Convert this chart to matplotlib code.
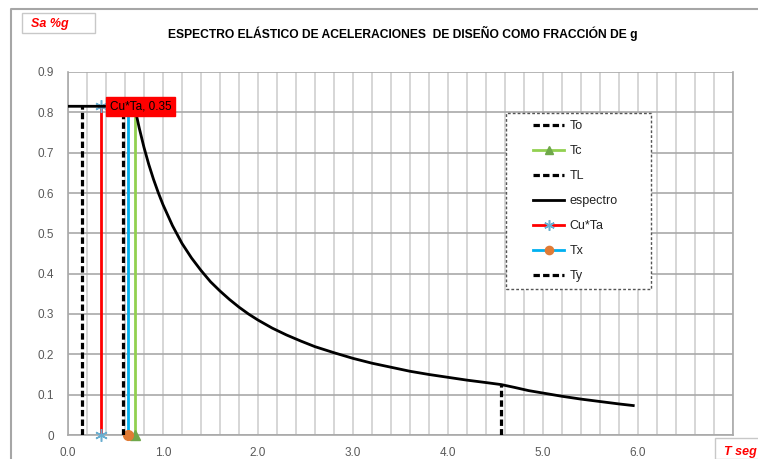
import matplotlib
matplotlib.use("Agg")
import matplotlib.pyplot as plt
from matplotlib.patches import Rectangle
from matplotlib.lines import Line2D

# ---- data ----
T_esp = [0.0, 0.70, 0.75, 0.80, 0.85, 0.90, 0.95, 1.00, 1.10, 1.20, 1.30, 1.40, 1.50, 1.60,
         1.70, 1.80, 1.90, 2.00, 2.15, 2.30, 2.45, 2.60, 2.80, 3.00, 3.20, 3.40, 3.60, 3.80,
         4.00, 4.20, 4.40, 4.56, 4.70, 4.85, 5.00, 5.20, 5.40, 5.60, 5.80, 5.95]
Sa_esp = [0.815, 0.815, 0.761, 0.713, 0.671, 0.634, 0.601, 0.571, 0.519, 0.475, 0.439, 0.408,
          0.380, 0.357, 0.336, 0.317, 0.300, 0.285, 0.265, 0.248, 0.233, 0.219, 0.204, 0.190,
          0.178, 0.168, 0.158, 0.150, 0.143, 0.136, 0.130, 0.125, 0.118, 0.110, 0.104, 0.096,
          0.089, 0.083, 0.077, 0.073]
T_o = [0.15, 0.15];  Sa_o = [0.0, 0.815]
T_c = [0.70, 0.70];  Sa_c = [0.0, 0.815]
T_L = [4.56, 4.56];  Sa_L = [0.0, 0.125]
T_cuta = [0.35, 0.35]; Sa_cuta = [0.0, 0.815]
T_x = [0.63, 0.63];  Sa_x = [0.0, 0.815]
T_y = [0.58, 0.58];  Sa_y = [0.0, 0.815]
cuta_label = "Cu*Ta, 0.35"
xticks = [0, 1, 2, 3, 4, 5, 6, 7]
xlabels = ["0.0", "1.0", "2.0", "3.0", "4.0", "5.0", "6.0", ""]
yticks = [0, 0.1, 0.2, 0.3, 0.4, 0.5, 0.6, 0.7, 0.8, 0.9]
ylabels = ["0", "0.1", "0.2", "0.3", "0.4", "0.5", "0.6", "0.7", "0.8", "0.9"]
title = "ESPECTRO ELÁSTICO DE ACELERACIONES  DE DISEÑO COMO FRACCIÓN DE g"

plt.rcParams['font.family'] = ['Liberation Sans', 'DejaVu Sans']

W, H = 758, 459
fig = plt.figure(figsize=(W/100, H/100), dpi=100)
ax = fig.add_axes([68/W, 1-435/H, (733-68)/W, (435-72)/H])

ax.set_xlim(0, 7)
ax.set_ylim(0, 0.9)

# grid
for i in range(36):
    ax.axvline(i*0.2, color='#cfcfcf', lw=1.2, zorder=0)
for v in yticks:
    ax.axhline(v, color='#a9a9a9', lw=1.2, zorder=0)

dash = (0, (2.0, 1.0))
ax.plot(T_o, Sa_o, color='black', lw=2.3, ls=dash, label='To', zorder=3)
ax.plot(T_c, Sa_c, color='#92d050', lw=2.0, marker='^', ms=7, mfc='#6fa84a', mec='#6fa84a',
        label='Tc', zorder=3, clip_on=False)
ax.plot(T_L, Sa_L, color='black', lw=2.3, ls=dash, label='TL', zorder=3)
ax.plot(T_esp, Sa_esp, color='black', lw=2.0, label='espectro', zorder=4,
        solid_joinstyle='round')
ax.plot(T_cuta, Sa_cuta, color='#ff0000', lw=2.0, marker=(6, 2, 0), ms=9, mec='#6aaed0',
        mew=1.1, label='Cu*Ta', zorder=3, clip_on=False)
ax.plot(T_x, Sa_x, color='#00b0f0', lw=2.0, marker='o', ms=7, mfc='#e07b35', mec='#e07b35',
        label='Tx', zorder=3, clip_on=False)
ax.plot(T_y, Sa_y, color='black', lw=2.3, ls=dash, label='Ty', zorder=3)

ax.annotate(cuta_label, xy=(T_cuta[1], Sa_cuta[1]), xytext=(6, 0), textcoords='offset points',
            ha='left', va='center', fontsize=8.5, color='black', zorder=10,
            bbox=dict(boxstyle='square,pad=0.3', fc='#ff0000', ec='#ff0000'))

ax.set_xticks(xticks)
ax.set_xticklabels(xlabels)
ax.set_yticks(yticks)
ax.set_yticklabels(ylabels)
ax.tick_params(axis='both', length=0, colors='#595959', labelsize=8.5)
ax.tick_params(axis='x', pad=9)
ax.tick_params(axis='y', pad=10)
for s in ['left', 'bottom', 'right']:
    ax.spines[s].set_color('#a9a9a9')
    ax.spines[s].set_linewidth(1.2)
ax.spines['top'].set_visible(False)

# legend box (dashed) and frameless legend inside
ax.add_patch(Rectangle((506/W, 1-289/H), (651-506)/W, (289-113)/H, transform=fig.transFigure,
                       fill=True, fc='white', ec='#555555', lw=1.0, ls=(0, (2, 1.5)), zorder=8,
                       clip_on=False))
leg = ax.legend(loc='upper left', bbox_to_anchor=(533/W, 1-120/H), bbox_transform=fig.transFigure,
                frameon=False, fontsize=9, labelspacing=1.04, handlelength=2.5, handletextpad=0.4,
                borderpad=0, borderaxespad=0, markerscale=0.85)
leg.set_zorder(20)
for t in leg.get_texts():
    t.set_color('#222222')

# title
fig.text(403/W, 1-33/H, title, ha='center', va='center', fontsize=8.7, fontweight='bold')

# outer chart border
fig.add_artist(Line2D([10.5/W, 10.5/W, 1.0], [0.0, 1-9/H, 1-9/H], transform=fig.transFigure,
                      color='#a6a6a6', lw=1.5))

# axis title boxes
fig.add_artist(Rectangle((22/W, 1-33/H), (95-22)/W, 20/H, transform=fig.transFigure,
                         fill=True, fc='white', ec='#c8c8c8', lw=1.0))
fig.text(31/W, 1-24/H, "Sa %g", ha='left', va='center', fontsize=9, color='#ff0000',
         fontstyle='italic', fontweight='bold')
fig.add_artist(Rectangle((715/W, 0), (760-715)/W, (459-438)/H, transform=fig.transFigure,
                         fill=True, fc='white', ec='#c8c8c8', lw=1.0))
fig.text(724/W, 1-452/H, "T seg", ha='left', va='center', fontsize=9, color='#ff0000',
         fontstyle='italic', fontweight='bold')

fig.savefig("out.png", dpi=100)
